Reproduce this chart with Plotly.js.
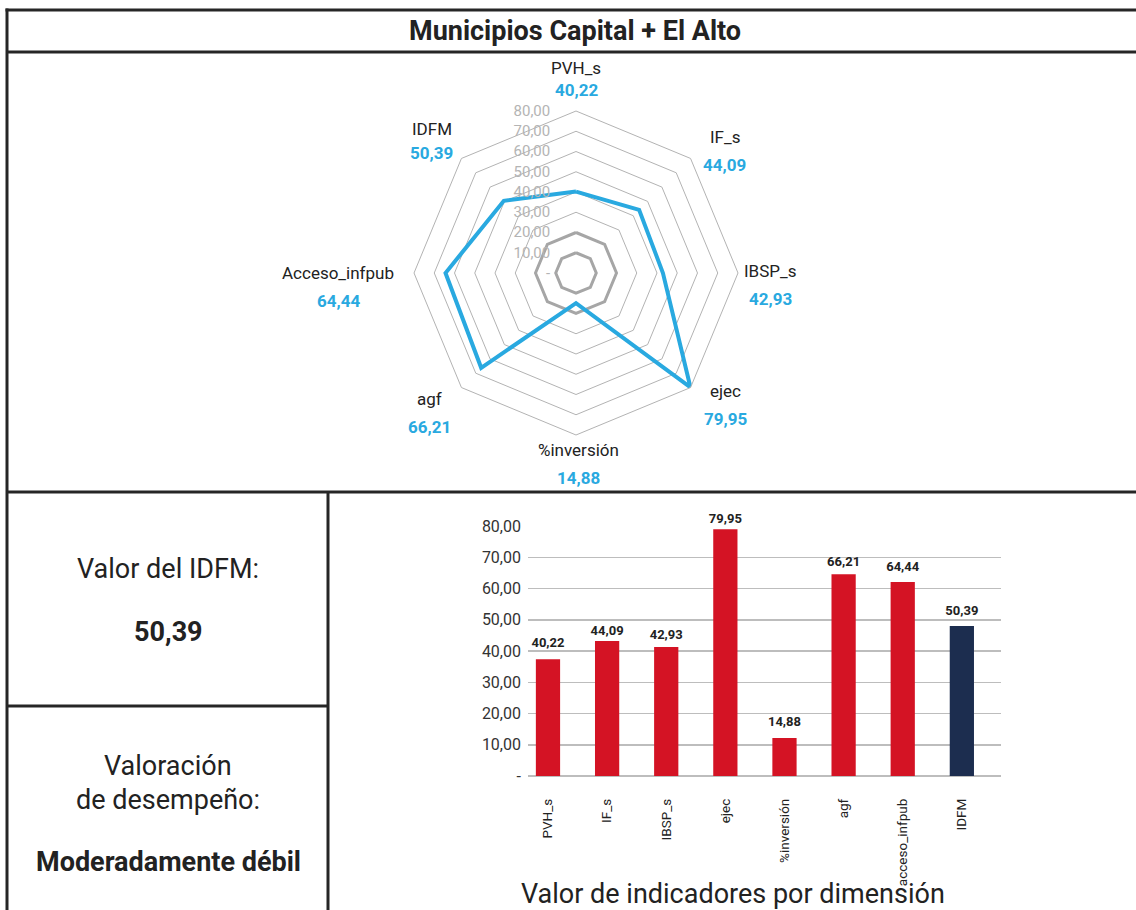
<!DOCTYPE html>
<html>
<head>
<meta charset="utf-8">
<script src="https://cdn.plot.ly/plotly-3.0.1.min.js"></script>
<style>html,body{margin:0;padding:0;background:#fff}#chart{width:1136px;height:910px}</style>
</head>
<body>
<div id="chart"></div>
<script>
// ---- data ----
const radarCategories = ["PVH_s", "IF_s", "IBSP_s", "ejec", "%inversión", "agf", "Acceso_infpub", "IDFM"];
const indicatorValues = [40.22, 44.09, 42.93, 79.95, 14.88, 66.21, 64.44, 50.39];
const ring10 = [10, 10, 10, 10, 10, 10, 10, 10];
const ring20 = [20, 20, 20, 20, 20, 20, 20, 20];
const barCategories = ["PVH_s", "IF_s", "IBSP_s", "ejec", "%inversión", "agf", "acceso_infpub", "IDFM"];
const barHeights = [37.4, 43.2, 41.3, 79.0, 12.2, 64.6, 62.1, 48.0];
const barLabelValues = [40.22, 44.09, 42.93, 79.95, 14.88, 66.21, 64.44, 50.39];
const axisTicks = [0, 10, 20, 30, 40, 50, 60, 70, 80];
const idfmValue = 50.39;
const valoracion = "Moderadamente débil";
const chartTitle = "Municipios Capital + El Alto";
const barAxisTitle = "Valor de indicadores por dimensión";

// ---- helpers / style ----
const W = 1136, H = 910;
const px = x => x / W;
const py = y => 1 - y / H;
const fmt = v => v === 0 ? "-" : v.toFixed(2).replace(".", ",");
const FONT = "Roboto, 'Open Sans', sans-serif";
const BLUE = "#29a9e0", RED = "#d41324", NAVY = "#1c2d4f", INK = "#222222";

// radar geometry (pixels)
const RC = {x: 576, y: 273, R: 162};
const labelRadiusPx = {"PVH_s": 205, "IF_s": 202, "%inversión": 177, "Acceso_infpub": 238, "IDFM": 204};
const defaultLabelRadiusPx = 194;
const labelNudgePx = {"IF_s": [6, 7], "ejec": [12, -19], "agf": [-9, -11], "IBSP_s": [0, -2], "%inversión": [2, 0]};
const valueOffsetPx = {"PVH_s": 22, "IDFM": 24};
const defaultValueOffsetPx = 28;

const close = a => a.concat([a[0]]);

const traces = [];
[ring10, ring20].forEach(r => traces.push({
  type: "scatterpolar", subplot: "polar", mode: "lines",
  r: close(r), theta: close(radarCategories),
  line: {color: "#a6a6a6", width: 3}, hoverinfo: "skip", showlegend: false
}));
traces.push({
  type: "scatterpolar", subplot: "polar", mode: "lines",
  r: close(indicatorValues), theta: close(radarCategories),
  line: {color: BLUE, width: 4}, showlegend: false
});
traces.push({
  type: "bar", xaxis: "x", yaxis: "y",
  x: barCategories, y: barHeights,
  marker: {color: barCategories.map((c, i) => i === barCategories.length - 1 ? NAVY : RED)},
  width: 0.41, showlegend: false, hoverinfo: "x+y"
});
traces.push({
  type: "scatter", xaxis: "x", yaxis: "y", mode: "text",
  x: barCategories, y: barLabelValues,
  text: barLabelValues.map(v => "<b>" + fmt(v) + "</b>"),
  textposition: "top center",
  textfont: {family: FONT, size: 13, color: INK},
  cliponaxis: false, hoverinfo: "skip", showlegend: false
});

const lineStyle = {color: "#262626", width: 3};
const hl = (y, x0, x1) => ({type: "line", xref: "paper", yref: "paper", x0: px(x0), x1: px(x1), y0: py(y), y1: py(y), line: lineStyle});
const vl = (x, y0, y1) => ({type: "line", xref: "paper", yref: "paper", x0: px(x), x1: px(x), y0: py(y0), y1: py(y1), line: lineStyle});
const shapes = [hl(10, 5.5, 1140), hl(52, 7, 1140), hl(492, 7, 1140), vl(7, 8.5, 915), vl(328, 492, 915), hl(706, 7, 328)];

const ann = (text, x, y, size, extra) => Object.assign({
  text: text, x: px(x), y: py(y), xref: "paper", yref: "paper",
  xanchor: "center", yanchor: "middle", showarrow: false,
  font: {family: FONT, size: size, color: INK}
}, extra || {});

const annotations = [
  ann("<b>" + chartTitle + "</b>", 575, 31, 27),
  ann("Valor del IDFM:", 168, 569, 27),
  ann("<b>" + fmt(idfmValue) + "</b>", 168, 632, 27),
  ann("Valoración", 168, 766, 27),
  ann("de desempeño:", 168, 800, 27),
  ann("<b>" + valoracion + "</b>", 168, 862, 27),
  ann(barAxisTitle, 733, 894, 27)
];

// radar category names and values placed around the polar area
radarCategories.forEach((c, i) => {
  const a = i * 2 * Math.PI / radarCategories.length;
  const r = labelRadiusPx[c] || defaultLabelRadiusPx;
  const n = labelNudgePx[c] || [0, 0];
  const x = RC.x + r * Math.sin(a) + n[0];
  const y = RC.y - r * Math.cos(a) + n[1];
  annotations.push(ann(c, x, y, 17, {font: {family: FONT, size: 17, color: INK}}));
  annotations.push(ann("<b>" + fmt(indicatorValues[i]) + "</b>", x, y + (valueOffsetPx[c] || defaultValueOffsetPx), 17,
    {font: {family: FONT, size: 17, color: BLUE}}));
});

const layout = {
  width: W, height: H,
  margin: {l: 0, r: 0, t: 0, b: 0, pad: 0},
  paper_bgcolor: "#ffffff", plot_bgcolor: "#ffffff",
  font: {family: FONT, color: INK},
  showlegend: false,
  polar: {
    domain: {x: [px(RC.x - RC.R), px(RC.x + RC.R)], y: [py(RC.y + RC.R), py(RC.y - RC.R)]},
    bgcolor: "#ffffff",
    gridshape: "linear",
    radialaxis: {
      range: [0, 80], tickvals: axisTicks, ticktext: axisTicks.map(fmt),
      angle: 90, side: "counterclockwise", tickangle: 90,
      showline: false, ticks: "outside", ticklen: 20, tickcolor: "rgba(0,0,0,0)",
      gridcolor: "#b3b3b3", gridwidth: 1,
      tickfont: {family: FONT, size: 15, color: "#b4b4b4"}
    },
    angularaxis: {
      type: "category", categoryarray: radarCategories,
      rotation: 90, direction: "clockwise",
      showgrid: false, showticklabels: false, ticks: "",
      showline: true, linecolor: "#b3b3b3", linewidth: 1
    }
  },
  xaxis: {
    domain: [px(528), px(1001)],
    type: "category", categoryarray: barCategories,
    range: [-0.338, barCategories.length - 0.338],
    tickangle: -90, ticks: "", ticklabelstandoff: 19,
    tickfont: {family: FONT, size: 13.5, color: INK},
    showline: false, showgrid: false, zeroline: false, fixedrange: true
  },
  yaxis: {
    domain: [py(776), py(526)],
    range: [0, 80], tickvals: axisTicks, ticktext: axisTicks.map(fmt),
    ticks: "", ticklabelstandoff: 6,
    tickfont: {family: FONT, size: 16, color: "#333333"},
    showgrid: true, gridcolor: "#bdbdbd", gridwidth: 1.5,
    zeroline: true, zerolinecolor: "#bdbdbd", zerolinewidth: 1.5,
    showline: false, fixedrange: true
  },
  shapes: shapes,
  annotations: annotations
};

Plotly.newPlot("chart", traces, layout, {displayModeBar: false, staticPlot: true});
</script>
</body>
</html>
